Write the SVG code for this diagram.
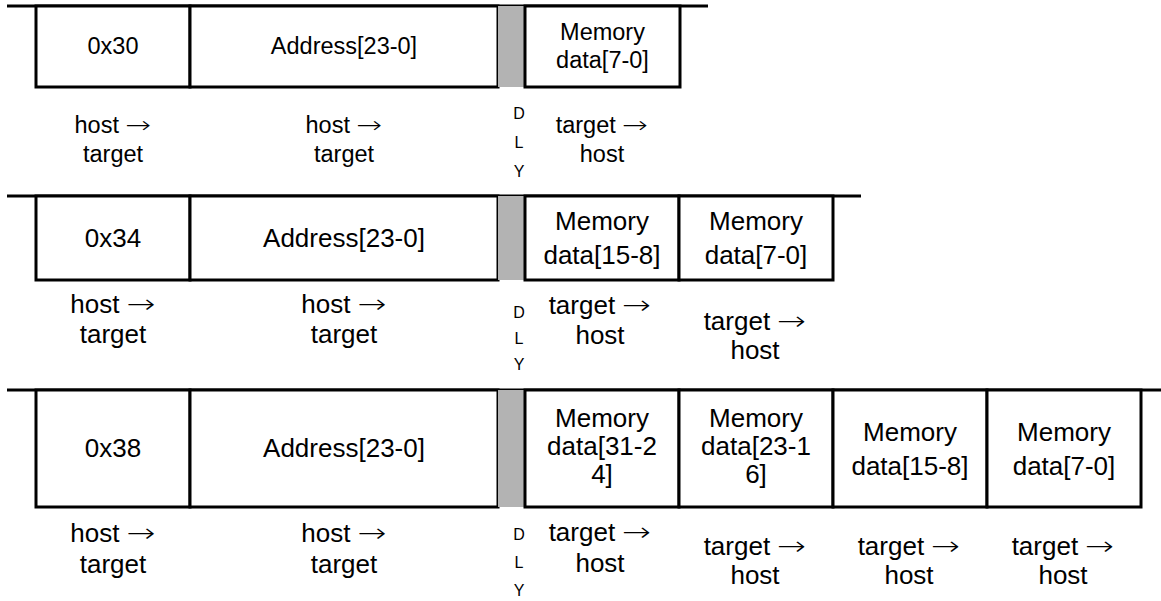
<svg xmlns="http://www.w3.org/2000/svg" width="1161" height="601" viewBox="0 0 1161 601">
<style>
.b{fill:#fff;stroke:#000;stroke-width:3}
.g{fill:#b3b3b3;stroke:none}
.ln{stroke:#000;stroke-width:3;fill:none}
text{font-family:"Liberation Sans",Arial,sans-serif;fill:#000;text-anchor:middle}
.a{font-family:"DejaVu Sans",sans-serif;font-weight:200}
.r1{font-size:23.5px}
.r2{font-size:26px}
.d{font-size:16px}
</style>
<rect width="1161" height="601" fill="#fff"/>
<g id="connectors">
<line class="ln" x1="7" y1="6" x2="708" y2="6"/>
<line class="ln" x1="7" y1="196" x2="861" y2="196"/>
<line class="ln" x1="7" y1="390" x2="1161" y2="390"/>
</g>
<!-- Row 1 -->
<g id="r1-cmd"><rect class="b" x="36" y="6" width="154" height="81"/><text class="r1" x="113" y="54">0x30</text></g>
<g id="r1-addr"><rect class="b" x="190" y="6" width="308" height="81"/><text class="r1" x="344" y="54">Address[23-0]</text></g>
<g id="r1-dly"><rect class="g" x="498" y="6" width="27" height="81"/></g>
<g id="r1-m1"><rect class="b" x="525" y="6" width="155" height="81"/><text class="r1" x="602.5" y="40">Memory</text><text class="r1" x="602.5" y="68">data[7-0]</text></g>
<g id="r1-labels">
<text class="r1" x="113" y="133">host <tspan class="a" textLength="26" lengthAdjust="spacingAndGlyphs">→</tspan></text><text class="r1" x="113" y="162">target</text>
<text class="r1" x="344" y="133">host <tspan class="a" textLength="26" lengthAdjust="spacingAndGlyphs">→</tspan></text><text class="r1" x="344" y="162">target</text>
<text class="r1" x="602" y="133">target <tspan class="a" textLength="26" lengthAdjust="spacingAndGlyphs">→</tspan></text><text class="r1" x="602" y="162">host</text>
<text class="d" x="519" y="119">D</text><text class="d" x="519" y="148">L</text><text class="d" x="519" y="177">Y</text>
</g>
<!-- Row 2 -->
<g id="r2-cmd"><rect class="b" x="36" y="196" width="154" height="84"/><text class="r2" x="113" y="247">0x34</text></g>
<g id="r2-addr"><rect class="b" x="190" y="196" width="308" height="84"/><text class="r2" x="344" y="247">Address[23-0]</text></g>
<g id="r2-dly"><rect class="g" x="498" y="196" width="27" height="84"/></g>
<g id="r2-m1"><rect class="b" x="525" y="196" width="154" height="84"/><text class="r2" x="602" y="230">Memory</text><text class="r2" x="602" y="264">data[15-8]</text></g>
<g id="r2-m2"><rect class="b" x="679" y="196" width="154" height="84"/><text class="r2" x="756" y="230">Memory</text><text class="r2" x="756" y="264">data[7-0]</text></g>
<g id="r2-labels">
<text class="r2" x="113" y="313">host <tspan class="a" textLength="29" lengthAdjust="spacingAndGlyphs">→</tspan></text><text class="r2" x="113" y="343">target</text>
<text class="r2" x="344" y="313">host <tspan class="a" textLength="29" lengthAdjust="spacingAndGlyphs">→</tspan></text><text class="r2" x="344" y="343">target</text>
<text class="r2" x="600" y="314">target <tspan class="a" textLength="29" lengthAdjust="spacingAndGlyphs">→</tspan></text><text class="r2" x="600" y="344">host</text>
<text class="r2" x="755" y="330">target <tspan class="a" textLength="29" lengthAdjust="spacingAndGlyphs">→</tspan></text><text class="r2" x="755" y="359">host</text>
<text class="d" x="519" y="318">D</text><text class="d" x="519" y="344">L</text><text class="d" x="519" y="370">Y</text>
</g>
<!-- Row 3 -->
<g id="r3-cmd"><rect class="b" x="36" y="390" width="154" height="117"/><text class="r2" x="113" y="457">0x38</text></g>
<g id="r3-addr"><rect class="b" x="190" y="390" width="308" height="117"/><text class="r2" x="344" y="457">Address[23-0]</text></g>
<g id="r3-dly"><rect class="g" x="498" y="390" width="27" height="117"/></g>
<g id="r3-m1"><rect class="b" x="525" y="390" width="154" height="117"/><text class="r2" x="602" y="427">Memory</text><text class="r2" x="602" y="455">data[31-2</text><text class="r2" x="602" y="483">4]</text></g>
<g id="r3-m2"><rect class="b" x="679" y="390" width="154" height="117"/><text class="r2" x="756" y="427">Memory</text><text class="r2" x="756" y="455">data[23-1</text><text class="r2" x="756" y="483">6]</text></g>
<g id="r3-m3"><rect class="b" x="833" y="390" width="154" height="117"/><text class="r2" x="910" y="441">Memory</text><text class="r2" x="910" y="475">data[15-8]</text></g>
<g id="r3-m4"><rect class="b" x="987" y="390" width="154" height="117"/><text class="r2" x="1064" y="441">Memory</text><text class="r2" x="1064" y="475">data[7-0]</text></g>
<g id="r3-labels">
<text class="r2" x="113" y="542">host <tspan class="a" textLength="29" lengthAdjust="spacingAndGlyphs">→</tspan></text><text class="r2" x="113" y="573">target</text>
<text class="r2" x="344" y="542">host <tspan class="a" textLength="29" lengthAdjust="spacingAndGlyphs">→</tspan></text><text class="r2" x="344" y="573">target</text>
<text class="r2" x="600" y="541">target <tspan class="a" textLength="29" lengthAdjust="spacingAndGlyphs">→</tspan></text><text class="r2" x="600" y="572">host</text>
<text class="r2" x="755" y="555">target <tspan class="a" textLength="29" lengthAdjust="spacingAndGlyphs">→</tspan></text><text class="r2" x="755" y="584">host</text>
<text class="r2" x="909" y="555">target <tspan class="a" textLength="29" lengthAdjust="spacingAndGlyphs">→</tspan></text><text class="r2" x="909" y="584">host</text>
<text class="r2" x="1063" y="555">target <tspan class="a" textLength="29" lengthAdjust="spacingAndGlyphs">→</tspan></text><text class="r2" x="1063" y="584">host</text>
<text class="d" x="519" y="540">D</text><text class="d" x="519" y="568">L</text><text class="d" x="519" y="596">Y</text>
</g>
</svg>
